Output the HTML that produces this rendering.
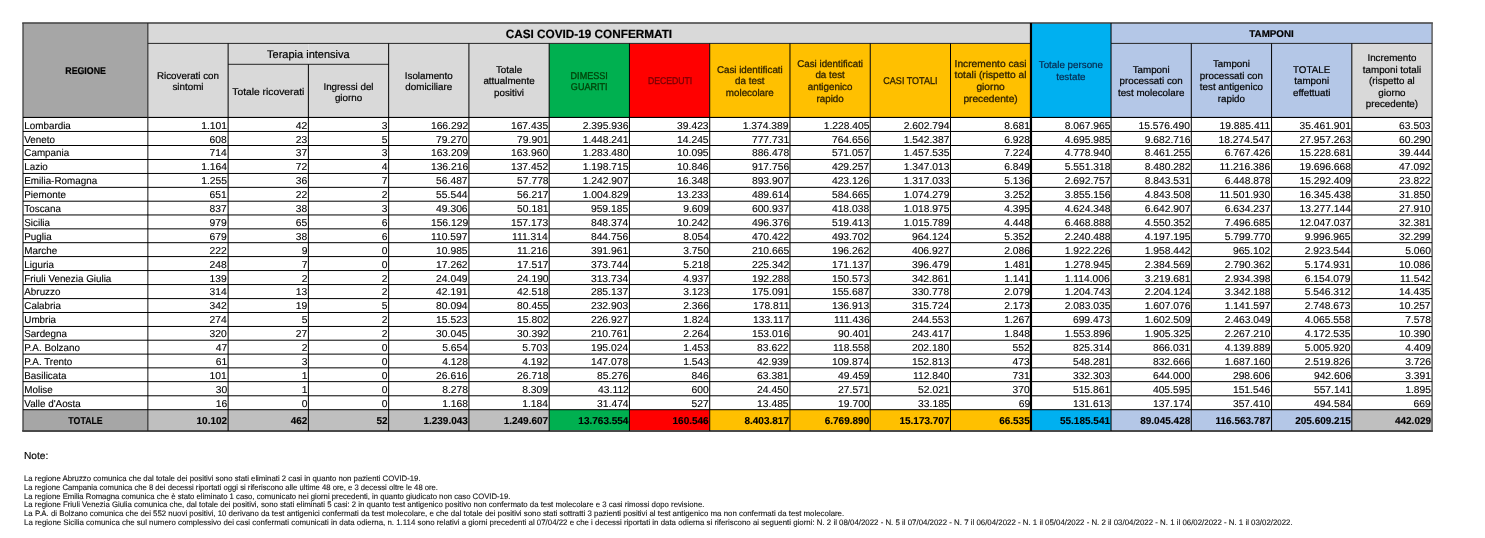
<!DOCTYPE html>
<html lang="it"><head><meta charset="utf-8"><title>Casi COVID-19</title>
<style>
html,body{margin:0;padding:0;background:#fff;}
body{text-rendering:geometricPrecision;width:1485px;height:538px;position:relative;overflow:hidden;font-family:"Liberation Sans",sans-serif;color:#111;}
svg{position:absolute;left:0;top:0;}
.c{position:absolute;box-sizing:border-box;display:flex;align-items:center;justify-content:center;text-align:center;white-space:nowrap;overflow:visible;}
.row{position:absolute;left:0;width:1485px;height:14px;}
.h{font-size:9.8px;line-height:11.5px;color:#000;-webkit-text-stroke:0.2px;}
.c span{display:inline-block;}
.o{color:#2c1f00;-webkit-text-stroke:0.3px;}
.b{font-weight:bold;}
.t1{font-size:12px;color:#000;}
.t2{font-size:11px;}
.g{color:#00450a;-webkit-text-stroke:0.35px;}
.r{color:#7a0004;-webkit-text-stroke:0.35px;}
.cy{color:#08294d;}
.d{font-size:10.0px;line-height:14px;color:#000;-webkit-text-stroke:0.12px #000;}
.d span{text-rendering:geometricPrecision;transform:scaleX(1.03);}
.n span{transform-origin:right center;}
.l span{transform-origin:left center;transform:translateX(0.3px) scaleX(0.985);}
.l{justify-content:flex-start;padding-left:1.4px;}
.n{justify-content:flex-end;padding-right:1.0px;}
.tt{font-size:10px;color:#000;-webkit-text-stroke:0.12px;}
.ctr{justify-content:center;}
.nt{position:absolute;font-size:10.2px;line-height:12px;white-space:nowrap;color:#000;-webkit-text-stroke:0.15px;}
.nl{position:absolute;transform-origin:left center;font-size:7.88px;line-height:9px;white-space:nowrap;color:#111;-webkit-text-stroke:0.1px;}
</style></head>
<body>
<svg width="1485" height="538" viewBox="0 0 1485 538" shape-rendering="geometricPrecision">
<rect x="23.00" y="23.00" width="124.85" height="94.44" fill="#a6a6a6"/>
<rect x="147.85" y="23.00" width="882.91" height="20.40" fill="#d9d9d9"/>
<rect x="1111.03" y="23.00" width="321.06" height="20.40" fill="#b4c7e7"/>
<rect x="147.85" y="43.40" width="80.27" height="74.04" fill="#d9d9d9"/>
<rect x="228.12" y="43.40" width="80.26" height="74.04" fill="#d9d9d9"/>
<rect x="308.38" y="43.40" width="80.26" height="74.04" fill="#d9d9d9"/>
<rect x="388.64" y="43.40" width="80.26" height="74.04" fill="#d9d9d9"/>
<rect x="468.91" y="43.40" width="80.26" height="74.04" fill="#d9d9d9"/>
<rect x="549.17" y="43.40" width="80.27" height="74.04" fill="#00b050"/>
<rect x="629.44" y="43.40" width="80.26" height="74.04" fill="#ff0000"/>
<rect x="709.71" y="43.40" width="80.26" height="74.04" fill="#ffc000"/>
<rect x="789.97" y="43.40" width="80.26" height="74.04" fill="#ffc000"/>
<rect x="870.24" y="43.40" width="80.26" height="74.04" fill="#ffc000"/>
<rect x="950.50" y="43.40" width="80.26" height="74.04" fill="#ffc000"/>
<rect x="1030.76" y="23.00" width="80.27" height="94.44" fill="#00b0f0"/>
<rect x="1111.03" y="43.40" width="80.26" height="74.04" fill="#b4c7e7"/>
<rect x="1191.29" y="43.40" width="80.27" height="74.04" fill="#b4c7e7"/>
<rect x="1271.56" y="43.40" width="80.26" height="74.04" fill="#b4c7e7"/>
<rect x="1351.82" y="43.40" width="80.27" height="74.04" fill="#d9d9d9"/>
<rect x="23.00" y="409.70" width="124.85" height="21.30" fill="#a6a6a6"/>
<rect x="147.85" y="409.70" width="80.27" height="21.30" fill="#bfbfbf"/>
<rect x="228.12" y="409.70" width="80.26" height="21.30" fill="#bfbfbf"/>
<rect x="308.38" y="409.70" width="80.26" height="21.30" fill="#bfbfbf"/>
<rect x="388.64" y="409.70" width="80.26" height="21.30" fill="#bfbfbf"/>
<rect x="468.91" y="409.70" width="80.26" height="21.30" fill="#bfbfbf"/>
<rect x="549.17" y="409.70" width="80.27" height="21.30" fill="#00b050"/>
<rect x="629.44" y="409.70" width="80.26" height="21.30" fill="#ff0000"/>
<rect x="709.71" y="409.70" width="80.26" height="21.30" fill="#ffc000"/>
<rect x="789.97" y="409.70" width="80.26" height="21.30" fill="#ffc000"/>
<rect x="870.24" y="409.70" width="80.26" height="21.30" fill="#ffc000"/>
<rect x="950.50" y="409.70" width="80.26" height="21.30" fill="#ffc000"/>
<rect x="1030.76" y="409.70" width="80.27" height="21.30" fill="#00b0f0"/>
<rect x="1111.03" y="409.70" width="80.26" height="21.30" fill="#b4c7e7"/>
<rect x="1191.29" y="409.70" width="80.27" height="21.30" fill="#b4c7e7"/>
<rect x="1271.56" y="409.70" width="80.26" height="21.30" fill="#b4c7e7"/>
<rect x="1351.82" y="409.70" width="80.27" height="21.30" fill="#bfbfbf"/>
<rect x="22.20" y="22.20" width="1410.69" height="1.60" fill="#4a4a4a"/>
<rect x="22.20" y="430.00" width="1410.69" height="2.00" fill="#4a4a4a"/>
<rect x="22.35" y="23.00" width="1.30" height="408.00" fill="#404040"/>
<rect x="1431.39" y="23.00" width="1.40" height="408.00" fill="#555555"/>
<rect x="147.85" y="42.90" width="882.91" height="1.00" fill="#262626"/>
<rect x="1111.03" y="42.90" width="321.06" height="1.00" fill="#262626"/>
<rect x="228.12" y="63.80" width="160.53" height="1.00" fill="#262626"/>
<rect x="23.00" y="116.89" width="1409.09" height="1.10" fill="#000000"/>
<rect x="147.30" y="23.00" width="1.10" height="408.00" fill="#262626"/>
<rect x="227.62" y="43.40" width="1.00" height="387.60" fill="#000000"/>
<rect x="307.88" y="64.30" width="1.00" height="366.70" fill="#000000"/>
<rect x="388.14" y="43.40" width="1.00" height="387.60" fill="#000000"/>
<rect x="468.41" y="43.40" width="1.00" height="387.60" fill="#000000"/>
<rect x="548.67" y="43.40" width="1.00" height="387.60" fill="#000000"/>
<rect x="628.94" y="43.40" width="1.00" height="387.60" fill="#000000"/>
<rect x="709.21" y="43.40" width="1.00" height="387.60" fill="#000000"/>
<rect x="789.47" y="43.40" width="1.00" height="387.60" fill="#000000"/>
<rect x="869.74" y="43.40" width="1.00" height="387.60" fill="#000000"/>
<rect x="950.00" y="43.40" width="1.00" height="387.60" fill="#000000"/>
<rect x="1110.53" y="43.40" width="1.00" height="387.60" fill="#000000"/>
<rect x="1190.79" y="43.40" width="1.00" height="387.60" fill="#000000"/>
<rect x="1271.06" y="43.40" width="1.00" height="387.60" fill="#000000"/>
<rect x="1351.32" y="43.40" width="1.00" height="387.60" fill="#000000"/>
<rect x="1110.53" y="23.00" width="1.00" height="20.40" fill="#000000"/>
<rect x="1029.87" y="23.00" width="2.20" height="408.00" fill="#000000"/>
<rect x="23.00" y="130.95" width="1409.09" height="1.00" fill="#000000"/>
<rect x="23.00" y="145.00" width="1409.09" height="1.00" fill="#000000"/>
<rect x="23.00" y="158.98" width="1409.09" height="1.00" fill="#000000"/>
<rect x="23.00" y="172.95" width="1409.09" height="1.00" fill="#000000"/>
<rect x="23.00" y="186.85" width="1409.09" height="1.00" fill="#000000"/>
<rect x="23.00" y="200.69" width="1409.09" height="1.00" fill="#000000"/>
<rect x="23.00" y="214.45" width="1409.09" height="1.00" fill="#000000"/>
<rect x="23.00" y="228.35" width="1409.09" height="1.00" fill="#000000"/>
<rect x="23.00" y="242.18" width="1409.09" height="1.00" fill="#000000"/>
<rect x="23.00" y="256.08" width="1409.09" height="1.00" fill="#000000"/>
<rect x="23.00" y="270.05" width="1409.09" height="1.00" fill="#000000"/>
<rect x="23.00" y="284.05" width="1409.09" height="1.00" fill="#000000"/>
<rect x="23.00" y="298.09" width="1409.09" height="1.00" fill="#000000"/>
<rect x="23.00" y="311.99" width="1409.09" height="1.00" fill="#000000"/>
<rect x="23.00" y="325.95" width="1409.09" height="1.00" fill="#000000"/>
<rect x="23.00" y="339.70" width="1409.09" height="1.00" fill="#000000"/>
<rect x="23.00" y="353.61" width="1409.09" height="1.00" fill="#000000"/>
<rect x="23.00" y="367.35" width="1409.09" height="1.00" fill="#000000"/>
<rect x="23.00" y="381.15" width="1409.09" height="1.00" fill="#000000"/>
<rect x="23.00" y="395.29" width="1409.09" height="1.00" fill="#000000"/>
<rect x="23.00" y="409.20" width="1409.09" height="1.00" fill="#000000"/>
</svg>
<div class="c h b" style="left:23.00px;top:25.00px;width:124.85px;height:94.44px;"><span style="transform:scaleX(0.9)">REGIONE</span></div>
<div class="c h b t1" style="left:147.85px;top:24.50px;width:882.91px;height:20.40px;"><span style="transform:scaleX(0.98)">CASI COVID-19 CONFERMATI</span></div>
<div class="c h b" style="left:1111.03px;top:24.30px;width:321.06px;height:20.40px;"><span style="transform:scaleX(1.0)">TAMPONI</span></div>
<div class="c h t2" style="left:228.12px;top:45.70px;width:160.53px;height:20.90px;"><span>Terapia intensiva</span></div>
<div class="c h" style="left:147.85px;top:44.80px;width:80.27px;height:74.04px;line-height:11.0px;"><span>Ricoverati con<br>sintomi</span></div>
<div class="c h" style="left:228.12px;top:65.90px;width:80.26px;height:53.14px;line-height:11.5px;"><span style="transform:scaleX(1.05)">Totale ricoverati</span></div>
<div class="c h" style="left:308.38px;top:66.60px;width:80.26px;height:53.14px;line-height:11.5px;"><span>Ingressi del<br>giorno</span></div>
<div class="c h" style="left:388.64px;top:45.00px;width:80.26px;height:74.04px;line-height:11.0px;"><span>Isolamento<br>domiciliare</span></div>
<div class="c h" style="left:468.91px;top:45.00px;width:80.26px;height:74.04px;line-height:11.5px;"><span>Totale<br>attualmente<br>positivi</span></div>
<div class="c h g" style="left:549.17px;top:45.00px;width:80.27px;height:74.04px;line-height:11.0px;"><span style="transform:scaleX(0.92)">DIMESSI<br>GUARITI</span></div>
<div class="c h r" style="left:629.44px;top:45.00px;width:80.26px;height:74.04px;line-height:11.5px;"><span style="transform:scaleX(0.885)">DECEDUTI</span></div>
<div class="c h o" style="left:709.71px;top:45.00px;width:80.26px;height:74.04px;line-height:11.5px;"><span>Casi identificati<br>da test<br>molecolare</span></div>
<div class="c h o" style="left:789.97px;top:45.00px;width:80.26px;height:74.04px;line-height:11.6px;"><span>Casi identificati<br>da test<br>antigenico<br>rapido</span></div>
<div class="c h o" style="left:870.24px;top:45.00px;width:80.26px;height:74.04px;line-height:11.5px;"><span style="transform:scaleX(0.92)">CASI TOTALI</span></div>
<div class="c h o" style="left:950.50px;top:45.00px;width:80.26px;height:74.04px;line-height:11.6px;"><span style="transform:scaleX(1.04)">Incremento casi<br>totali (rispetto al<br>giorno<br>precedente)</span></div>
<div class="c h cy" style="left:1030.76px;top:24.60px;width:80.27px;height:94.44px;line-height:11.5px;"><span>Totale persone<br>testate</span></div>
<div class="c h" style="left:1111.03px;top:45.00px;width:80.26px;height:74.04px;line-height:11.5px;"><span>Tamponi<br>processati con<br>test molecolare</span></div>
<div class="c h" style="left:1191.29px;top:45.00px;width:80.27px;height:74.04px;line-height:11.5px;"><span>Tamponi<br>processati con<br>test antigenico<br>rapido</span></div>
<div class="c h" style="left:1271.56px;top:45.00px;width:80.26px;height:74.04px;line-height:11.5px;"><span>TOTALE<br>tamponi<br>effettuati</span></div>
<div class="c h" style="left:1351.82px;top:45.00px;width:80.27px;height:74.04px;line-height:11.5px;"><span>Incremento<br>tamponi totali<br>(rispetto al<br>giorno<br>precedente)</span></div>
<div class="row" style="top:120px;">
<div class="c d l" style="left:23.00px;top:0.00px;width:124.85px;height:14.00px;"><span>Lombardia</span></div>
<div class="c d n" style="left:147.85px;top:0.00px;width:80.27px;height:14.00px;"><span>1.101</span></div>
<div class="c d n" style="left:228.12px;top:0.00px;width:80.26px;height:14.00px;"><span>42</span></div>
<div class="c d n" style="left:308.38px;top:0.00px;width:80.26px;height:14.00px;"><span>3</span></div>
<div class="c d n" style="left:388.64px;top:0.00px;width:80.26px;height:14.00px;"><span>166.292</span></div>
<div class="c d n" style="left:468.91px;top:0.00px;width:80.26px;height:14.00px;"><span>167.435</span></div>
<div class="c d n" style="left:549.17px;top:0.00px;width:80.27px;height:14.00px;"><span>2.395.936</span></div>
<div class="c d n" style="left:629.44px;top:0.00px;width:80.26px;height:14.00px;"><span>39.423</span></div>
<div class="c d n" style="left:709.71px;top:0.00px;width:80.26px;height:14.00px;"><span>1.374.389</span></div>
<div class="c d n" style="left:789.97px;top:0.00px;width:80.26px;height:14.00px;"><span>1.228.405</span></div>
<div class="c d n" style="left:870.24px;top:0.00px;width:80.26px;height:14.00px;"><span>2.602.794</span></div>
<div class="c d n" style="left:950.50px;top:0.00px;width:80.26px;height:14.00px;"><span>8.681</span></div>
<div class="c d n" style="left:1030.76px;top:0.00px;width:80.27px;height:14.00px;"><span>8.067.965</span></div>
<div class="c d n" style="left:1111.03px;top:0.00px;width:80.26px;height:14.00px;"><span>15.576.490</span></div>
<div class="c d n" style="left:1191.29px;top:0.00px;width:80.27px;height:14.00px;"><span>19.885.411</span></div>
<div class="c d n" style="left:1271.56px;top:0.00px;width:80.26px;height:14.00px;"><span>35.461.901</span></div>
<div class="c d n" style="left:1351.82px;top:0.00px;width:80.27px;height:14.00px;"><span>63.503</span></div>
</div>
<div class="row" style="top:134px;">
<div class="c d l" style="left:23.00px;top:0.00px;width:124.85px;height:14.00px;"><span>Veneto</span></div>
<div class="c d n" style="left:147.85px;top:0.00px;width:80.27px;height:14.00px;"><span>608</span></div>
<div class="c d n" style="left:228.12px;top:0.00px;width:80.26px;height:14.00px;"><span>23</span></div>
<div class="c d n" style="left:308.38px;top:0.00px;width:80.26px;height:14.00px;"><span>5</span></div>
<div class="c d n" style="left:388.64px;top:0.00px;width:80.26px;height:14.00px;"><span>79.270</span></div>
<div class="c d n" style="left:468.91px;top:0.00px;width:80.26px;height:14.00px;"><span>79.901</span></div>
<div class="c d n" style="left:549.17px;top:0.00px;width:80.27px;height:14.00px;"><span>1.448.241</span></div>
<div class="c d n" style="left:629.44px;top:0.00px;width:80.26px;height:14.00px;"><span>14.245</span></div>
<div class="c d n" style="left:709.71px;top:0.00px;width:80.26px;height:14.00px;"><span>777.731</span></div>
<div class="c d n" style="left:789.97px;top:0.00px;width:80.26px;height:14.00px;"><span>764.656</span></div>
<div class="c d n" style="left:870.24px;top:0.00px;width:80.26px;height:14.00px;"><span>1.542.387</span></div>
<div class="c d n" style="left:950.50px;top:0.00px;width:80.26px;height:14.00px;"><span>6.928</span></div>
<div class="c d n" style="left:1030.76px;top:0.00px;width:80.27px;height:14.00px;"><span>4.695.985</span></div>
<div class="c d n" style="left:1111.03px;top:0.00px;width:80.26px;height:14.00px;"><span>9.682.716</span></div>
<div class="c d n" style="left:1191.29px;top:0.00px;width:80.27px;height:14.00px;"><span>18.274.547</span></div>
<div class="c d n" style="left:1271.56px;top:0.00px;width:80.26px;height:14.00px;"><span>27.957.263</span></div>
<div class="c d n" style="left:1351.82px;top:0.00px;width:80.27px;height:14.00px;"><span>60.290</span></div>
</div>
<div class="row" style="top:147px;">
<div class="c d l" style="left:23.00px;top:0.00px;width:124.85px;height:14.00px;"><span>Campania</span></div>
<div class="c d n" style="left:147.85px;top:0.00px;width:80.27px;height:14.00px;"><span>714</span></div>
<div class="c d n" style="left:228.12px;top:0.00px;width:80.26px;height:14.00px;"><span>37</span></div>
<div class="c d n" style="left:308.38px;top:0.00px;width:80.26px;height:14.00px;"><span>3</span></div>
<div class="c d n" style="left:388.64px;top:0.00px;width:80.26px;height:14.00px;"><span>163.209</span></div>
<div class="c d n" style="left:468.91px;top:0.00px;width:80.26px;height:14.00px;"><span>163.960</span></div>
<div class="c d n" style="left:549.17px;top:0.00px;width:80.27px;height:14.00px;"><span>1.283.480</span></div>
<div class="c d n" style="left:629.44px;top:0.00px;width:80.26px;height:14.00px;"><span>10.095</span></div>
<div class="c d n" style="left:709.71px;top:0.00px;width:80.26px;height:14.00px;"><span>886.478</span></div>
<div class="c d n" style="left:789.97px;top:0.00px;width:80.26px;height:14.00px;"><span>571.057</span></div>
<div class="c d n" style="left:870.24px;top:0.00px;width:80.26px;height:14.00px;"><span>1.457.535</span></div>
<div class="c d n" style="left:950.50px;top:0.00px;width:80.26px;height:14.00px;"><span>7.224</span></div>
<div class="c d n" style="left:1030.76px;top:0.00px;width:80.27px;height:14.00px;"><span>4.778.940</span></div>
<div class="c d n" style="left:1111.03px;top:0.00px;width:80.26px;height:14.00px;"><span>8.461.255</span></div>
<div class="c d n" style="left:1191.29px;top:0.00px;width:80.27px;height:14.00px;"><span>6.767.426</span></div>
<div class="c d n" style="left:1271.56px;top:0.00px;width:80.26px;height:14.00px;"><span>15.228.681</span></div>
<div class="c d n" style="left:1351.82px;top:0.00px;width:80.27px;height:14.00px;"><span>39.444</span></div>
</div>
<div class="row" style="top:161px;">
<div class="c d l" style="left:23.00px;top:0.00px;width:124.85px;height:14.00px;"><span>Lazio</span></div>
<div class="c d n" style="left:147.85px;top:0.00px;width:80.27px;height:14.00px;"><span>1.164</span></div>
<div class="c d n" style="left:228.12px;top:0.00px;width:80.26px;height:14.00px;"><span>72</span></div>
<div class="c d n" style="left:308.38px;top:0.00px;width:80.26px;height:14.00px;"><span>4</span></div>
<div class="c d n" style="left:388.64px;top:0.00px;width:80.26px;height:14.00px;"><span>136.216</span></div>
<div class="c d n" style="left:468.91px;top:0.00px;width:80.26px;height:14.00px;"><span>137.452</span></div>
<div class="c d n" style="left:549.17px;top:0.00px;width:80.27px;height:14.00px;"><span>1.198.715</span></div>
<div class="c d n" style="left:629.44px;top:0.00px;width:80.26px;height:14.00px;"><span>10.846</span></div>
<div class="c d n" style="left:709.71px;top:0.00px;width:80.26px;height:14.00px;"><span>917.756</span></div>
<div class="c d n" style="left:789.97px;top:0.00px;width:80.26px;height:14.00px;"><span>429.257</span></div>
<div class="c d n" style="left:870.24px;top:0.00px;width:80.26px;height:14.00px;"><span>1.347.013</span></div>
<div class="c d n" style="left:950.50px;top:0.00px;width:80.26px;height:14.00px;"><span>6.849</span></div>
<div class="c d n" style="left:1030.76px;top:0.00px;width:80.27px;height:14.00px;"><span>5.551.318</span></div>
<div class="c d n" style="left:1111.03px;top:0.00px;width:80.26px;height:14.00px;"><span>8.480.282</span></div>
<div class="c d n" style="left:1191.29px;top:0.00px;width:80.27px;height:14.00px;"><span>11.216.386</span></div>
<div class="c d n" style="left:1271.56px;top:0.00px;width:80.26px;height:14.00px;"><span>19.696.668</span></div>
<div class="c d n" style="left:1351.82px;top:0.00px;width:80.27px;height:14.00px;"><span>47.092</span></div>
</div>
<div class="row" style="top:175px;">
<div class="c d l" style="left:23.00px;top:0.00px;width:124.85px;height:14.00px;"><span>Emilia-Romagna</span></div>
<div class="c d n" style="left:147.85px;top:0.00px;width:80.27px;height:14.00px;"><span>1.255</span></div>
<div class="c d n" style="left:228.12px;top:0.00px;width:80.26px;height:14.00px;"><span>36</span></div>
<div class="c d n" style="left:308.38px;top:0.00px;width:80.26px;height:14.00px;"><span>7</span></div>
<div class="c d n" style="left:388.64px;top:0.00px;width:80.26px;height:14.00px;"><span>56.487</span></div>
<div class="c d n" style="left:468.91px;top:0.00px;width:80.26px;height:14.00px;"><span>57.778</span></div>
<div class="c d n" style="left:549.17px;top:0.00px;width:80.27px;height:14.00px;"><span>1.242.907</span></div>
<div class="c d n" style="left:629.44px;top:0.00px;width:80.26px;height:14.00px;"><span>16.348</span></div>
<div class="c d n" style="left:709.71px;top:0.00px;width:80.26px;height:14.00px;"><span>893.907</span></div>
<div class="c d n" style="left:789.97px;top:0.00px;width:80.26px;height:14.00px;"><span>423.126</span></div>
<div class="c d n" style="left:870.24px;top:0.00px;width:80.26px;height:14.00px;"><span>1.317.033</span></div>
<div class="c d n" style="left:950.50px;top:0.00px;width:80.26px;height:14.00px;"><span>5.136</span></div>
<div class="c d n" style="left:1030.76px;top:0.00px;width:80.27px;height:14.00px;"><span>2.692.757</span></div>
<div class="c d n" style="left:1111.03px;top:0.00px;width:80.26px;height:14.00px;"><span>8.843.531</span></div>
<div class="c d n" style="left:1191.29px;top:0.00px;width:80.27px;height:14.00px;"><span>6.448.878</span></div>
<div class="c d n" style="left:1271.56px;top:0.00px;width:80.26px;height:14.00px;"><span>15.292.409</span></div>
<div class="c d n" style="left:1351.82px;top:0.00px;width:80.27px;height:14.00px;"><span>23.822</span></div>
</div>
<div class="row" style="top:189px;">
<div class="c d l" style="left:23.00px;top:0.00px;width:124.85px;height:14.00px;"><span>Piemonte</span></div>
<div class="c d n" style="left:147.85px;top:0.00px;width:80.27px;height:14.00px;"><span>651</span></div>
<div class="c d n" style="left:228.12px;top:0.00px;width:80.26px;height:14.00px;"><span>22</span></div>
<div class="c d n" style="left:308.38px;top:0.00px;width:80.26px;height:14.00px;"><span>2</span></div>
<div class="c d n" style="left:388.64px;top:0.00px;width:80.26px;height:14.00px;"><span>55.544</span></div>
<div class="c d n" style="left:468.91px;top:0.00px;width:80.26px;height:14.00px;"><span>56.217</span></div>
<div class="c d n" style="left:549.17px;top:0.00px;width:80.27px;height:14.00px;"><span>1.004.829</span></div>
<div class="c d n" style="left:629.44px;top:0.00px;width:80.26px;height:14.00px;"><span>13.233</span></div>
<div class="c d n" style="left:709.71px;top:0.00px;width:80.26px;height:14.00px;"><span>489.614</span></div>
<div class="c d n" style="left:789.97px;top:0.00px;width:80.26px;height:14.00px;"><span>584.665</span></div>
<div class="c d n" style="left:870.24px;top:0.00px;width:80.26px;height:14.00px;"><span>1.074.279</span></div>
<div class="c d n" style="left:950.50px;top:0.00px;width:80.26px;height:14.00px;"><span>3.252</span></div>
<div class="c d n" style="left:1030.76px;top:0.00px;width:80.27px;height:14.00px;"><span>3.855.156</span></div>
<div class="c d n" style="left:1111.03px;top:0.00px;width:80.26px;height:14.00px;"><span>4.843.508</span></div>
<div class="c d n" style="left:1191.29px;top:0.00px;width:80.27px;height:14.00px;"><span>11.501.930</span></div>
<div class="c d n" style="left:1271.56px;top:0.00px;width:80.26px;height:14.00px;"><span>16.345.438</span></div>
<div class="c d n" style="left:1351.82px;top:0.00px;width:80.27px;height:14.00px;"><span>31.850</span></div>
</div>
<div class="row" style="top:203px;">
<div class="c d l" style="left:23.00px;top:0.00px;width:124.85px;height:14.00px;"><span>Toscana</span></div>
<div class="c d n" style="left:147.85px;top:0.00px;width:80.27px;height:14.00px;"><span>837</span></div>
<div class="c d n" style="left:228.12px;top:0.00px;width:80.26px;height:14.00px;"><span>38</span></div>
<div class="c d n" style="left:308.38px;top:0.00px;width:80.26px;height:14.00px;"><span>3</span></div>
<div class="c d n" style="left:388.64px;top:0.00px;width:80.26px;height:14.00px;"><span>49.306</span></div>
<div class="c d n" style="left:468.91px;top:0.00px;width:80.26px;height:14.00px;"><span>50.181</span></div>
<div class="c d n" style="left:549.17px;top:0.00px;width:80.27px;height:14.00px;"><span>959.185</span></div>
<div class="c d n" style="left:629.44px;top:0.00px;width:80.26px;height:14.00px;"><span>9.609</span></div>
<div class="c d n" style="left:709.71px;top:0.00px;width:80.26px;height:14.00px;"><span>600.937</span></div>
<div class="c d n" style="left:789.97px;top:0.00px;width:80.26px;height:14.00px;"><span>418.038</span></div>
<div class="c d n" style="left:870.24px;top:0.00px;width:80.26px;height:14.00px;"><span>1.018.975</span></div>
<div class="c d n" style="left:950.50px;top:0.00px;width:80.26px;height:14.00px;"><span>4.395</span></div>
<div class="c d n" style="left:1030.76px;top:0.00px;width:80.27px;height:14.00px;"><span>4.624.348</span></div>
<div class="c d n" style="left:1111.03px;top:0.00px;width:80.26px;height:14.00px;"><span>6.642.907</span></div>
<div class="c d n" style="left:1191.29px;top:0.00px;width:80.27px;height:14.00px;"><span>6.634.237</span></div>
<div class="c d n" style="left:1271.56px;top:0.00px;width:80.26px;height:14.00px;"><span>13.277.144</span></div>
<div class="c d n" style="left:1351.82px;top:0.00px;width:80.27px;height:14.00px;"><span>27.910</span></div>
</div>
<div class="row" style="top:217px;">
<div class="c d l" style="left:23.00px;top:0.00px;width:124.85px;height:14.00px;"><span>Sicilia</span></div>
<div class="c d n" style="left:147.85px;top:0.00px;width:80.27px;height:14.00px;"><span>979</span></div>
<div class="c d n" style="left:228.12px;top:0.00px;width:80.26px;height:14.00px;"><span>65</span></div>
<div class="c d n" style="left:308.38px;top:0.00px;width:80.26px;height:14.00px;"><span>6</span></div>
<div class="c d n" style="left:388.64px;top:0.00px;width:80.26px;height:14.00px;"><span>156.129</span></div>
<div class="c d n" style="left:468.91px;top:0.00px;width:80.26px;height:14.00px;"><span>157.173</span></div>
<div class="c d n" style="left:549.17px;top:0.00px;width:80.27px;height:14.00px;"><span>848.374</span></div>
<div class="c d n" style="left:629.44px;top:0.00px;width:80.26px;height:14.00px;"><span>10.242</span></div>
<div class="c d n" style="left:709.71px;top:0.00px;width:80.26px;height:14.00px;"><span>496.376</span></div>
<div class="c d n" style="left:789.97px;top:0.00px;width:80.26px;height:14.00px;"><span>519.413</span></div>
<div class="c d n" style="left:870.24px;top:0.00px;width:80.26px;height:14.00px;"><span>1.015.789</span></div>
<div class="c d n" style="left:950.50px;top:0.00px;width:80.26px;height:14.00px;"><span>4.448</span></div>
<div class="c d n" style="left:1030.76px;top:0.00px;width:80.27px;height:14.00px;"><span>6.468.888</span></div>
<div class="c d n" style="left:1111.03px;top:0.00px;width:80.26px;height:14.00px;"><span>4.550.352</span></div>
<div class="c d n" style="left:1191.29px;top:0.00px;width:80.27px;height:14.00px;"><span>7.496.685</span></div>
<div class="c d n" style="left:1271.56px;top:0.00px;width:80.26px;height:14.00px;"><span>12.047.037</span></div>
<div class="c d n" style="left:1351.82px;top:0.00px;width:80.27px;height:14.00px;"><span>32.381</span></div>
</div>
<div class="row" style="top:231px;">
<div class="c d l" style="left:23.00px;top:0.00px;width:124.85px;height:14.00px;"><span>Puglia</span></div>
<div class="c d n" style="left:147.85px;top:0.00px;width:80.27px;height:14.00px;"><span>679</span></div>
<div class="c d n" style="left:228.12px;top:0.00px;width:80.26px;height:14.00px;"><span>38</span></div>
<div class="c d n" style="left:308.38px;top:0.00px;width:80.26px;height:14.00px;"><span>6</span></div>
<div class="c d n" style="left:388.64px;top:0.00px;width:80.26px;height:14.00px;"><span>110.597</span></div>
<div class="c d n" style="left:468.91px;top:0.00px;width:80.26px;height:14.00px;"><span>111.314</span></div>
<div class="c d n" style="left:549.17px;top:0.00px;width:80.27px;height:14.00px;"><span>844.756</span></div>
<div class="c d n" style="left:629.44px;top:0.00px;width:80.26px;height:14.00px;"><span>8.054</span></div>
<div class="c d n" style="left:709.71px;top:0.00px;width:80.26px;height:14.00px;"><span>470.422</span></div>
<div class="c d n" style="left:789.97px;top:0.00px;width:80.26px;height:14.00px;"><span>493.702</span></div>
<div class="c d n" style="left:870.24px;top:0.00px;width:80.26px;height:14.00px;"><span>964.124</span></div>
<div class="c d n" style="left:950.50px;top:0.00px;width:80.26px;height:14.00px;"><span>5.352</span></div>
<div class="c d n" style="left:1030.76px;top:0.00px;width:80.27px;height:14.00px;"><span>2.240.488</span></div>
<div class="c d n" style="left:1111.03px;top:0.00px;width:80.26px;height:14.00px;"><span>4.197.195</span></div>
<div class="c d n" style="left:1191.29px;top:0.00px;width:80.27px;height:14.00px;"><span>5.799.770</span></div>
<div class="c d n" style="left:1271.56px;top:0.00px;width:80.26px;height:14.00px;"><span>9.996.965</span></div>
<div class="c d n" style="left:1351.82px;top:0.00px;width:80.27px;height:14.00px;"><span>32.299</span></div>
</div>
<div class="row" style="top:245px;">
<div class="c d l" style="left:23.00px;top:0.00px;width:124.85px;height:14.00px;"><span>Marche</span></div>
<div class="c d n" style="left:147.85px;top:0.00px;width:80.27px;height:14.00px;"><span>222</span></div>
<div class="c d n" style="left:228.12px;top:0.00px;width:80.26px;height:14.00px;"><span>9</span></div>
<div class="c d n" style="left:308.38px;top:0.00px;width:80.26px;height:14.00px;"><span>0</span></div>
<div class="c d n" style="left:388.64px;top:0.00px;width:80.26px;height:14.00px;"><span>10.985</span></div>
<div class="c d n" style="left:468.91px;top:0.00px;width:80.26px;height:14.00px;"><span>11.216</span></div>
<div class="c d n" style="left:549.17px;top:0.00px;width:80.27px;height:14.00px;"><span>391.961</span></div>
<div class="c d n" style="left:629.44px;top:0.00px;width:80.26px;height:14.00px;"><span>3.750</span></div>
<div class="c d n" style="left:709.71px;top:0.00px;width:80.26px;height:14.00px;"><span>210.665</span></div>
<div class="c d n" style="left:789.97px;top:0.00px;width:80.26px;height:14.00px;"><span>196.262</span></div>
<div class="c d n" style="left:870.24px;top:0.00px;width:80.26px;height:14.00px;"><span>406.927</span></div>
<div class="c d n" style="left:950.50px;top:0.00px;width:80.26px;height:14.00px;"><span>2.086</span></div>
<div class="c d n" style="left:1030.76px;top:0.00px;width:80.27px;height:14.00px;"><span>1.922.226</span></div>
<div class="c d n" style="left:1111.03px;top:0.00px;width:80.26px;height:14.00px;"><span>1.958.442</span></div>
<div class="c d n" style="left:1191.29px;top:0.00px;width:80.27px;height:14.00px;"><span>965.102</span></div>
<div class="c d n" style="left:1271.56px;top:0.00px;width:80.26px;height:14.00px;"><span>2.923.544</span></div>
<div class="c d n" style="left:1351.82px;top:0.00px;width:80.27px;height:14.00px;"><span>5.060</span></div>
</div>
<div class="row" style="top:259px;">
<div class="c d l" style="left:23.00px;top:0.00px;width:124.85px;height:14.00px;"><span>Liguria</span></div>
<div class="c d n" style="left:147.85px;top:0.00px;width:80.27px;height:14.00px;"><span>248</span></div>
<div class="c d n" style="left:228.12px;top:0.00px;width:80.26px;height:14.00px;"><span>7</span></div>
<div class="c d n" style="left:308.38px;top:0.00px;width:80.26px;height:14.00px;"><span>0</span></div>
<div class="c d n" style="left:388.64px;top:0.00px;width:80.26px;height:14.00px;"><span>17.262</span></div>
<div class="c d n" style="left:468.91px;top:0.00px;width:80.26px;height:14.00px;"><span>17.517</span></div>
<div class="c d n" style="left:549.17px;top:0.00px;width:80.27px;height:14.00px;"><span>373.744</span></div>
<div class="c d n" style="left:629.44px;top:0.00px;width:80.26px;height:14.00px;"><span>5.218</span></div>
<div class="c d n" style="left:709.71px;top:0.00px;width:80.26px;height:14.00px;"><span>225.342</span></div>
<div class="c d n" style="left:789.97px;top:0.00px;width:80.26px;height:14.00px;"><span>171.137</span></div>
<div class="c d n" style="left:870.24px;top:0.00px;width:80.26px;height:14.00px;"><span>396.479</span></div>
<div class="c d n" style="left:950.50px;top:0.00px;width:80.26px;height:14.00px;"><span>1.481</span></div>
<div class="c d n" style="left:1030.76px;top:0.00px;width:80.27px;height:14.00px;"><span>1.278.945</span></div>
<div class="c d n" style="left:1111.03px;top:0.00px;width:80.26px;height:14.00px;"><span>2.384.569</span></div>
<div class="c d n" style="left:1191.29px;top:0.00px;width:80.27px;height:14.00px;"><span>2.790.362</span></div>
<div class="c d n" style="left:1271.56px;top:0.00px;width:80.26px;height:14.00px;"><span>5.174.931</span></div>
<div class="c d n" style="left:1351.82px;top:0.00px;width:80.27px;height:14.00px;"><span>10.086</span></div>
</div>
<div class="row" style="top:273px;">
<div class="c d l" style="left:23.00px;top:0.00px;width:124.85px;height:14.00px;"><span>Friuli Venezia Giulia</span></div>
<div class="c d n" style="left:147.85px;top:0.00px;width:80.27px;height:14.00px;"><span>139</span></div>
<div class="c d n" style="left:228.12px;top:0.00px;width:80.26px;height:14.00px;"><span>2</span></div>
<div class="c d n" style="left:308.38px;top:0.00px;width:80.26px;height:14.00px;"><span>2</span></div>
<div class="c d n" style="left:388.64px;top:0.00px;width:80.26px;height:14.00px;"><span>24.049</span></div>
<div class="c d n" style="left:468.91px;top:0.00px;width:80.26px;height:14.00px;"><span>24.190</span></div>
<div class="c d n" style="left:549.17px;top:0.00px;width:80.27px;height:14.00px;"><span>313.734</span></div>
<div class="c d n" style="left:629.44px;top:0.00px;width:80.26px;height:14.00px;"><span>4.937</span></div>
<div class="c d n" style="left:709.71px;top:0.00px;width:80.26px;height:14.00px;"><span>192.288</span></div>
<div class="c d n" style="left:789.97px;top:0.00px;width:80.26px;height:14.00px;"><span>150.573</span></div>
<div class="c d n" style="left:870.24px;top:0.00px;width:80.26px;height:14.00px;"><span>342.861</span></div>
<div class="c d n" style="left:950.50px;top:0.00px;width:80.26px;height:14.00px;"><span>1.141</span></div>
<div class="c d n" style="left:1030.76px;top:0.00px;width:80.27px;height:14.00px;"><span>1.114.006</span></div>
<div class="c d n" style="left:1111.03px;top:0.00px;width:80.26px;height:14.00px;"><span>3.219.681</span></div>
<div class="c d n" style="left:1191.29px;top:0.00px;width:80.27px;height:14.00px;"><span>2.934.398</span></div>
<div class="c d n" style="left:1271.56px;top:0.00px;width:80.26px;height:14.00px;"><span>6.154.079</span></div>
<div class="c d n" style="left:1351.82px;top:0.00px;width:80.27px;height:14.00px;"><span>11.542</span></div>
</div>
<div class="row" style="top:286px;">
<div class="c d l" style="left:23.00px;top:0.00px;width:124.85px;height:14.00px;"><span>Abruzzo</span></div>
<div class="c d n" style="left:147.85px;top:0.00px;width:80.27px;height:14.00px;"><span>314</span></div>
<div class="c d n" style="left:228.12px;top:0.00px;width:80.26px;height:14.00px;"><span>13</span></div>
<div class="c d n" style="left:308.38px;top:0.00px;width:80.26px;height:14.00px;"><span>2</span></div>
<div class="c d n" style="left:388.64px;top:0.00px;width:80.26px;height:14.00px;"><span>42.191</span></div>
<div class="c d n" style="left:468.91px;top:0.00px;width:80.26px;height:14.00px;"><span>42.518</span></div>
<div class="c d n" style="left:549.17px;top:0.00px;width:80.27px;height:14.00px;"><span>285.137</span></div>
<div class="c d n" style="left:629.44px;top:0.00px;width:80.26px;height:14.00px;"><span>3.123</span></div>
<div class="c d n" style="left:709.71px;top:0.00px;width:80.26px;height:14.00px;"><span>175.091</span></div>
<div class="c d n" style="left:789.97px;top:0.00px;width:80.26px;height:14.00px;"><span>155.687</span></div>
<div class="c d n" style="left:870.24px;top:0.00px;width:80.26px;height:14.00px;"><span>330.778</span></div>
<div class="c d n" style="left:950.50px;top:0.00px;width:80.26px;height:14.00px;"><span>2.079</span></div>
<div class="c d n" style="left:1030.76px;top:0.00px;width:80.27px;height:14.00px;"><span>1.204.743</span></div>
<div class="c d n" style="left:1111.03px;top:0.00px;width:80.26px;height:14.00px;"><span>2.204.124</span></div>
<div class="c d n" style="left:1191.29px;top:0.00px;width:80.27px;height:14.00px;"><span>3.342.188</span></div>
<div class="c d n" style="left:1271.56px;top:0.00px;width:80.26px;height:14.00px;"><span>5.546.312</span></div>
<div class="c d n" style="left:1351.82px;top:0.00px;width:80.27px;height:14.00px;"><span>14.435</span></div>
</div>
<div class="row" style="top:300px;">
<div class="c d l" style="left:23.00px;top:0.00px;width:124.85px;height:14.00px;"><span>Calabria</span></div>
<div class="c d n" style="left:147.85px;top:0.00px;width:80.27px;height:14.00px;"><span>342</span></div>
<div class="c d n" style="left:228.12px;top:0.00px;width:80.26px;height:14.00px;"><span>19</span></div>
<div class="c d n" style="left:308.38px;top:0.00px;width:80.26px;height:14.00px;"><span>5</span></div>
<div class="c d n" style="left:388.64px;top:0.00px;width:80.26px;height:14.00px;"><span>80.094</span></div>
<div class="c d n" style="left:468.91px;top:0.00px;width:80.26px;height:14.00px;"><span>80.455</span></div>
<div class="c d n" style="left:549.17px;top:0.00px;width:80.27px;height:14.00px;"><span>232.903</span></div>
<div class="c d n" style="left:629.44px;top:0.00px;width:80.26px;height:14.00px;"><span>2.366</span></div>
<div class="c d n" style="left:709.71px;top:0.00px;width:80.26px;height:14.00px;"><span>178.811</span></div>
<div class="c d n" style="left:789.97px;top:0.00px;width:80.26px;height:14.00px;"><span>136.913</span></div>
<div class="c d n" style="left:870.24px;top:0.00px;width:80.26px;height:14.00px;"><span>315.724</span></div>
<div class="c d n" style="left:950.50px;top:0.00px;width:80.26px;height:14.00px;"><span>2.173</span></div>
<div class="c d n" style="left:1030.76px;top:0.00px;width:80.27px;height:14.00px;"><span>2.083.035</span></div>
<div class="c d n" style="left:1111.03px;top:0.00px;width:80.26px;height:14.00px;"><span>1.607.076</span></div>
<div class="c d n" style="left:1191.29px;top:0.00px;width:80.27px;height:14.00px;"><span>1.141.597</span></div>
<div class="c d n" style="left:1271.56px;top:0.00px;width:80.26px;height:14.00px;"><span>2.748.673</span></div>
<div class="c d n" style="left:1351.82px;top:0.00px;width:80.27px;height:14.00px;"><span>10.257</span></div>
</div>
<div class="row" style="top:314px;">
<div class="c d l" style="left:23.00px;top:0.00px;width:124.85px;height:14.00px;"><span>Umbria</span></div>
<div class="c d n" style="left:147.85px;top:0.00px;width:80.27px;height:14.00px;"><span>274</span></div>
<div class="c d n" style="left:228.12px;top:0.00px;width:80.26px;height:14.00px;"><span>5</span></div>
<div class="c d n" style="left:308.38px;top:0.00px;width:80.26px;height:14.00px;"><span>2</span></div>
<div class="c d n" style="left:388.64px;top:0.00px;width:80.26px;height:14.00px;"><span>15.523</span></div>
<div class="c d n" style="left:468.91px;top:0.00px;width:80.26px;height:14.00px;"><span>15.802</span></div>
<div class="c d n" style="left:549.17px;top:0.00px;width:80.27px;height:14.00px;"><span>226.927</span></div>
<div class="c d n" style="left:629.44px;top:0.00px;width:80.26px;height:14.00px;"><span>1.824</span></div>
<div class="c d n" style="left:709.71px;top:0.00px;width:80.26px;height:14.00px;"><span>133.117</span></div>
<div class="c d n" style="left:789.97px;top:0.00px;width:80.26px;height:14.00px;"><span>111.436</span></div>
<div class="c d n" style="left:870.24px;top:0.00px;width:80.26px;height:14.00px;"><span>244.553</span></div>
<div class="c d n" style="left:950.50px;top:0.00px;width:80.26px;height:14.00px;"><span>1.267</span></div>
<div class="c d n" style="left:1030.76px;top:0.00px;width:80.27px;height:14.00px;"><span>699.473</span></div>
<div class="c d n" style="left:1111.03px;top:0.00px;width:80.26px;height:14.00px;"><span>1.602.509</span></div>
<div class="c d n" style="left:1191.29px;top:0.00px;width:80.27px;height:14.00px;"><span>2.463.049</span></div>
<div class="c d n" style="left:1271.56px;top:0.00px;width:80.26px;height:14.00px;"><span>4.065.558</span></div>
<div class="c d n" style="left:1351.82px;top:0.00px;width:80.27px;height:14.00px;"><span>7.578</span></div>
</div>
<div class="row" style="top:328px;">
<div class="c d l" style="left:23.00px;top:0.00px;width:124.85px;height:14.00px;"><span>Sardegna</span></div>
<div class="c d n" style="left:147.85px;top:0.00px;width:80.27px;height:14.00px;"><span>320</span></div>
<div class="c d n" style="left:228.12px;top:0.00px;width:80.26px;height:14.00px;"><span>27</span></div>
<div class="c d n" style="left:308.38px;top:0.00px;width:80.26px;height:14.00px;"><span>2</span></div>
<div class="c d n" style="left:388.64px;top:0.00px;width:80.26px;height:14.00px;"><span>30.045</span></div>
<div class="c d n" style="left:468.91px;top:0.00px;width:80.26px;height:14.00px;"><span>30.392</span></div>
<div class="c d n" style="left:549.17px;top:0.00px;width:80.27px;height:14.00px;"><span>210.761</span></div>
<div class="c d n" style="left:629.44px;top:0.00px;width:80.26px;height:14.00px;"><span>2.264</span></div>
<div class="c d n" style="left:709.71px;top:0.00px;width:80.26px;height:14.00px;"><span>153.016</span></div>
<div class="c d n" style="left:789.97px;top:0.00px;width:80.26px;height:14.00px;"><span>90.401</span></div>
<div class="c d n" style="left:870.24px;top:0.00px;width:80.26px;height:14.00px;"><span>243.417</span></div>
<div class="c d n" style="left:950.50px;top:0.00px;width:80.26px;height:14.00px;"><span>1.848</span></div>
<div class="c d n" style="left:1030.76px;top:0.00px;width:80.27px;height:14.00px;"><span>1.553.896</span></div>
<div class="c d n" style="left:1111.03px;top:0.00px;width:80.26px;height:14.00px;"><span>1.905.325</span></div>
<div class="c d n" style="left:1191.29px;top:0.00px;width:80.27px;height:14.00px;"><span>2.267.210</span></div>
<div class="c d n" style="left:1271.56px;top:0.00px;width:80.26px;height:14.00px;"><span>4.172.535</span></div>
<div class="c d n" style="left:1351.82px;top:0.00px;width:80.27px;height:14.00px;"><span>10.390</span></div>
</div>
<div class="row" style="top:342px;">
<div class="c d l" style="left:23.00px;top:0.00px;width:124.85px;height:14.00px;"><span>P.A. Bolzano</span></div>
<div class="c d n" style="left:147.85px;top:0.00px;width:80.27px;height:14.00px;"><span>47</span></div>
<div class="c d n" style="left:228.12px;top:0.00px;width:80.26px;height:14.00px;"><span>2</span></div>
<div class="c d n" style="left:308.38px;top:0.00px;width:80.26px;height:14.00px;"><span>0</span></div>
<div class="c d n" style="left:388.64px;top:0.00px;width:80.26px;height:14.00px;"><span>5.654</span></div>
<div class="c d n" style="left:468.91px;top:0.00px;width:80.26px;height:14.00px;"><span>5.703</span></div>
<div class="c d n" style="left:549.17px;top:0.00px;width:80.27px;height:14.00px;"><span>195.024</span></div>
<div class="c d n" style="left:629.44px;top:0.00px;width:80.26px;height:14.00px;"><span>1.453</span></div>
<div class="c d n" style="left:709.71px;top:0.00px;width:80.26px;height:14.00px;"><span>83.622</span></div>
<div class="c d n" style="left:789.97px;top:0.00px;width:80.26px;height:14.00px;"><span>118.558</span></div>
<div class="c d n" style="left:870.24px;top:0.00px;width:80.26px;height:14.00px;"><span>202.180</span></div>
<div class="c d n" style="left:950.50px;top:0.00px;width:80.26px;height:14.00px;"><span>552</span></div>
<div class="c d n" style="left:1030.76px;top:0.00px;width:80.27px;height:14.00px;"><span>825.314</span></div>
<div class="c d n" style="left:1111.03px;top:0.00px;width:80.26px;height:14.00px;"><span>866.031</span></div>
<div class="c d n" style="left:1191.29px;top:0.00px;width:80.27px;height:14.00px;"><span>4.139.889</span></div>
<div class="c d n" style="left:1271.56px;top:0.00px;width:80.26px;height:14.00px;"><span>5.005.920</span></div>
<div class="c d n" style="left:1351.82px;top:0.00px;width:80.27px;height:14.00px;"><span>4.409</span></div>
</div>
<div class="row" style="top:356px;">
<div class="c d l" style="left:23.00px;top:0.00px;width:124.85px;height:14.00px;"><span>P.A. Trento</span></div>
<div class="c d n" style="left:147.85px;top:0.00px;width:80.27px;height:14.00px;"><span>61</span></div>
<div class="c d n" style="left:228.12px;top:0.00px;width:80.26px;height:14.00px;"><span>3</span></div>
<div class="c d n" style="left:308.38px;top:0.00px;width:80.26px;height:14.00px;"><span>0</span></div>
<div class="c d n" style="left:388.64px;top:0.00px;width:80.26px;height:14.00px;"><span>4.128</span></div>
<div class="c d n" style="left:468.91px;top:0.00px;width:80.26px;height:14.00px;"><span>4.192</span></div>
<div class="c d n" style="left:549.17px;top:0.00px;width:80.27px;height:14.00px;"><span>147.078</span></div>
<div class="c d n" style="left:629.44px;top:0.00px;width:80.26px;height:14.00px;"><span>1.543</span></div>
<div class="c d n" style="left:709.71px;top:0.00px;width:80.26px;height:14.00px;"><span>42.939</span></div>
<div class="c d n" style="left:789.97px;top:0.00px;width:80.26px;height:14.00px;"><span>109.874</span></div>
<div class="c d n" style="left:870.24px;top:0.00px;width:80.26px;height:14.00px;"><span>152.813</span></div>
<div class="c d n" style="left:950.50px;top:0.00px;width:80.26px;height:14.00px;"><span>473</span></div>
<div class="c d n" style="left:1030.76px;top:0.00px;width:80.27px;height:14.00px;"><span>548.281</span></div>
<div class="c d n" style="left:1111.03px;top:0.00px;width:80.26px;height:14.00px;"><span>832.666</span></div>
<div class="c d n" style="left:1191.29px;top:0.00px;width:80.27px;height:14.00px;"><span>1.687.160</span></div>
<div class="c d n" style="left:1271.56px;top:0.00px;width:80.26px;height:14.00px;"><span>2.519.826</span></div>
<div class="c d n" style="left:1351.82px;top:0.00px;width:80.27px;height:14.00px;"><span>3.726</span></div>
</div>
<div class="row" style="top:370px;">
<div class="c d l" style="left:23.00px;top:0.00px;width:124.85px;height:14.00px;"><span>Basilicata</span></div>
<div class="c d n" style="left:147.85px;top:0.00px;width:80.27px;height:14.00px;"><span>101</span></div>
<div class="c d n" style="left:228.12px;top:0.00px;width:80.26px;height:14.00px;"><span>1</span></div>
<div class="c d n" style="left:308.38px;top:0.00px;width:80.26px;height:14.00px;"><span>0</span></div>
<div class="c d n" style="left:388.64px;top:0.00px;width:80.26px;height:14.00px;"><span>26.616</span></div>
<div class="c d n" style="left:468.91px;top:0.00px;width:80.26px;height:14.00px;"><span>26.718</span></div>
<div class="c d n" style="left:549.17px;top:0.00px;width:80.27px;height:14.00px;"><span>85.276</span></div>
<div class="c d n" style="left:629.44px;top:0.00px;width:80.26px;height:14.00px;"><span>846</span></div>
<div class="c d n" style="left:709.71px;top:0.00px;width:80.26px;height:14.00px;"><span>63.381</span></div>
<div class="c d n" style="left:789.97px;top:0.00px;width:80.26px;height:14.00px;"><span>49.459</span></div>
<div class="c d n" style="left:870.24px;top:0.00px;width:80.26px;height:14.00px;"><span>112.840</span></div>
<div class="c d n" style="left:950.50px;top:0.00px;width:80.26px;height:14.00px;"><span>731</span></div>
<div class="c d n" style="left:1030.76px;top:0.00px;width:80.27px;height:14.00px;"><span>332.303</span></div>
<div class="c d n" style="left:1111.03px;top:0.00px;width:80.26px;height:14.00px;"><span>644.000</span></div>
<div class="c d n" style="left:1191.29px;top:0.00px;width:80.27px;height:14.00px;"><span>298.606</span></div>
<div class="c d n" style="left:1271.56px;top:0.00px;width:80.26px;height:14.00px;"><span>942.606</span></div>
<div class="c d n" style="left:1351.82px;top:0.00px;width:80.27px;height:14.00px;"><span>3.391</span></div>
</div>
<div class="row" style="top:384px;">
<div class="c d l" style="left:23.00px;top:0.00px;width:124.85px;height:14.00px;"><span>Molise</span></div>
<div class="c d n" style="left:147.85px;top:0.00px;width:80.27px;height:14.00px;"><span>30</span></div>
<div class="c d n" style="left:228.12px;top:0.00px;width:80.26px;height:14.00px;"><span>1</span></div>
<div class="c d n" style="left:308.38px;top:0.00px;width:80.26px;height:14.00px;"><span>0</span></div>
<div class="c d n" style="left:388.64px;top:0.00px;width:80.26px;height:14.00px;"><span>8.278</span></div>
<div class="c d n" style="left:468.91px;top:0.00px;width:80.26px;height:14.00px;"><span>8.309</span></div>
<div class="c d n" style="left:549.17px;top:0.00px;width:80.27px;height:14.00px;"><span>43.112</span></div>
<div class="c d n" style="left:629.44px;top:0.00px;width:80.26px;height:14.00px;"><span>600</span></div>
<div class="c d n" style="left:709.71px;top:0.00px;width:80.26px;height:14.00px;"><span>24.450</span></div>
<div class="c d n" style="left:789.97px;top:0.00px;width:80.26px;height:14.00px;"><span>27.571</span></div>
<div class="c d n" style="left:870.24px;top:0.00px;width:80.26px;height:14.00px;"><span>52.021</span></div>
<div class="c d n" style="left:950.50px;top:0.00px;width:80.26px;height:14.00px;"><span>370</span></div>
<div class="c d n" style="left:1030.76px;top:0.00px;width:80.27px;height:14.00px;"><span>515.861</span></div>
<div class="c d n" style="left:1111.03px;top:0.00px;width:80.26px;height:14.00px;"><span>405.595</span></div>
<div class="c d n" style="left:1191.29px;top:0.00px;width:80.27px;height:14.00px;"><span>151.546</span></div>
<div class="c d n" style="left:1271.56px;top:0.00px;width:80.26px;height:14.00px;"><span>557.141</span></div>
<div class="c d n" style="left:1351.82px;top:0.00px;width:80.27px;height:14.00px;"><span>1.895</span></div>
</div>
<div class="row" style="top:398px;">
<div class="c d l" style="left:23.00px;top:0.00px;width:124.85px;height:14.00px;"><span>Valle d'Aosta</span></div>
<div class="c d n" style="left:147.85px;top:0.00px;width:80.27px;height:14.00px;"><span>16</span></div>
<div class="c d n" style="left:228.12px;top:0.00px;width:80.26px;height:14.00px;"><span>0</span></div>
<div class="c d n" style="left:308.38px;top:0.00px;width:80.26px;height:14.00px;"><span>0</span></div>
<div class="c d n" style="left:388.64px;top:0.00px;width:80.26px;height:14.00px;"><span>1.168</span></div>
<div class="c d n" style="left:468.91px;top:0.00px;width:80.26px;height:14.00px;"><span>1.184</span></div>
<div class="c d n" style="left:549.17px;top:0.00px;width:80.27px;height:14.00px;"><span>31.474</span></div>
<div class="c d n" style="left:629.44px;top:0.00px;width:80.26px;height:14.00px;"><span>527</span></div>
<div class="c d n" style="left:709.71px;top:0.00px;width:80.26px;height:14.00px;"><span>13.485</span></div>
<div class="c d n" style="left:789.97px;top:0.00px;width:80.26px;height:14.00px;"><span>19.700</span></div>
<div class="c d n" style="left:870.24px;top:0.00px;width:80.26px;height:14.00px;"><span>33.185</span></div>
<div class="c d n" style="left:950.50px;top:0.00px;width:80.26px;height:14.00px;"><span>69</span></div>
<div class="c d n" style="left:1030.76px;top:0.00px;width:80.27px;height:14.00px;"><span>131.613</span></div>
<div class="c d n" style="left:1111.03px;top:0.00px;width:80.26px;height:14.00px;"><span>137.174</span></div>
<div class="c d n" style="left:1191.29px;top:0.00px;width:80.27px;height:14.00px;"><span>357.410</span></div>
<div class="c d n" style="left:1271.56px;top:0.00px;width:80.26px;height:14.00px;"><span>494.584</span></div>
<div class="c d n" style="left:1351.82px;top:0.00px;width:80.27px;height:14.00px;"><span>669</span></div>
</div>
<div class="c tt b ctr" style="left:23.00px;top:410.70px;width:124.85px;height:21.30px;"><span style="transform:scaleX(0.88)">TOTALE</span></div>
<div class="c tt b n" style="left:147.85px;top:410.70px;width:80.27px;height:21.30px;"><span>10.102</span></div>
<div class="c tt b n" style="left:228.12px;top:410.70px;width:80.26px;height:21.30px;"><span>462</span></div>
<div class="c tt b n" style="left:308.38px;top:410.70px;width:80.26px;height:21.30px;"><span>52</span></div>
<div class="c tt b n" style="left:388.64px;top:410.70px;width:80.26px;height:21.30px;"><span>1.239.043</span></div>
<div class="c tt b n" style="left:468.91px;top:410.70px;width:80.26px;height:21.30px;"><span>1.249.607</span></div>
<div class="c tt b n g" style="left:549.17px;top:410.70px;width:80.27px;height:21.30px;"><span>13.763.554</span></div>
<div class="c tt b n r" style="left:629.44px;top:410.70px;width:80.26px;height:21.30px;"><span>160.546</span></div>
<div class="c tt b n" style="left:709.71px;top:410.70px;width:80.26px;height:21.30px;"><span>8.403.817</span></div>
<div class="c tt b n" style="left:789.97px;top:410.70px;width:80.26px;height:21.30px;"><span>6.769.890</span></div>
<div class="c tt b n" style="left:870.24px;top:410.70px;width:80.26px;height:21.30px;"><span>15.173.707</span></div>
<div class="c tt b n" style="left:950.50px;top:410.70px;width:80.26px;height:21.30px;"><span>66.535</span></div>
<div class="c tt b n cy" style="left:1030.76px;top:410.70px;width:80.27px;height:21.30px;"><span>55.185.541</span></div>
<div class="c tt b n" style="left:1111.03px;top:410.70px;width:80.26px;height:21.30px;"><span>89.045.428</span></div>
<div class="c tt b n" style="left:1191.29px;top:410.70px;width:80.27px;height:21.30px;"><span>116.563.787</span></div>
<div class="c tt b n" style="left:1271.56px;top:410.70px;width:80.26px;height:21.30px;"><span>205.609.215</span></div>
<div class="c tt b n" style="left:1351.82px;top:410.70px;width:80.27px;height:21.30px;"><span>442.029</span></div>
<div class="nt" style="left:24px;top:451.4px;">Note:</div>
<div class="nl" style="left:24.3px;top:470px;transform:translateY(4.00px) scaleX(0.988);">La regione Abruzzo comunica che dal totale dei positivi sono stati eliminati 2 casi in quanto non pazienti COVID-19.</div>
<div class="nl" style="left:24.3px;top:470px;transform:translateY(12.82px) scaleX(0.974);">La regione Campania comunica che 8 dei decessi riportati oggi si riferiscono alle ultime 48 ore, e 3 decessi oltre le 48 ore.</div>
<div class="nl" style="left:24.3px;top:470px;transform:translateY(21.64px) scaleX(0.9806);">La regione Emilia Romagna comunica che è stato eliminato 1 caso, comunicato nei giorni precedenti, in quanto giudicato non caso COVID-19.</div>
<div class="nl" style="left:24.3px;top:470px;transform:translateY(30.46px) scaleX(0.9894);">La regione Friuli Venezia Giulia comunica che, dal totale dei positivi, sono stati eliminati 5 casi: 2 in quanto test antigenico positivo non confermato da test molecolare e 3 casi rimossi dopo revisione.</div>
<div class="nl" style="left:24.3px;top:470px;transform:translateY(39.28px) scaleX(0.9973);">La P.A. di Bolzano comunica che dei 552 nuovi positivi, 10 derivano da test antigenici confermati da test molecolare, e che dal totale dei positivi sono stati sottratti 3 pazienti positivi al test antigenico ma non confermati da test molecolare.</div>
<div class="nl" style="left:24.3px;top:470px;transform:translateY(48.10px) scaleX(0.9991);">La regione Sicilia comunica che sul numero complessivo dei casi confermati comunicati in data odierna, n. 1.114 sono relativi a giorni precedenti al 07/04/22 e che i decessi riportati in data odierna si riferiscono ai seguenti giorni: N. 2 il 08/04/2022 - N. 5 il 07/04/2022 - N. 7 il 06/04/2022 - N. 1 il 05/04/2022 - N. 2 il 03/04/2022 - N. 1 il 06/02/2022 - N. 1 il 03/02/2022.</div>

</body></html>
